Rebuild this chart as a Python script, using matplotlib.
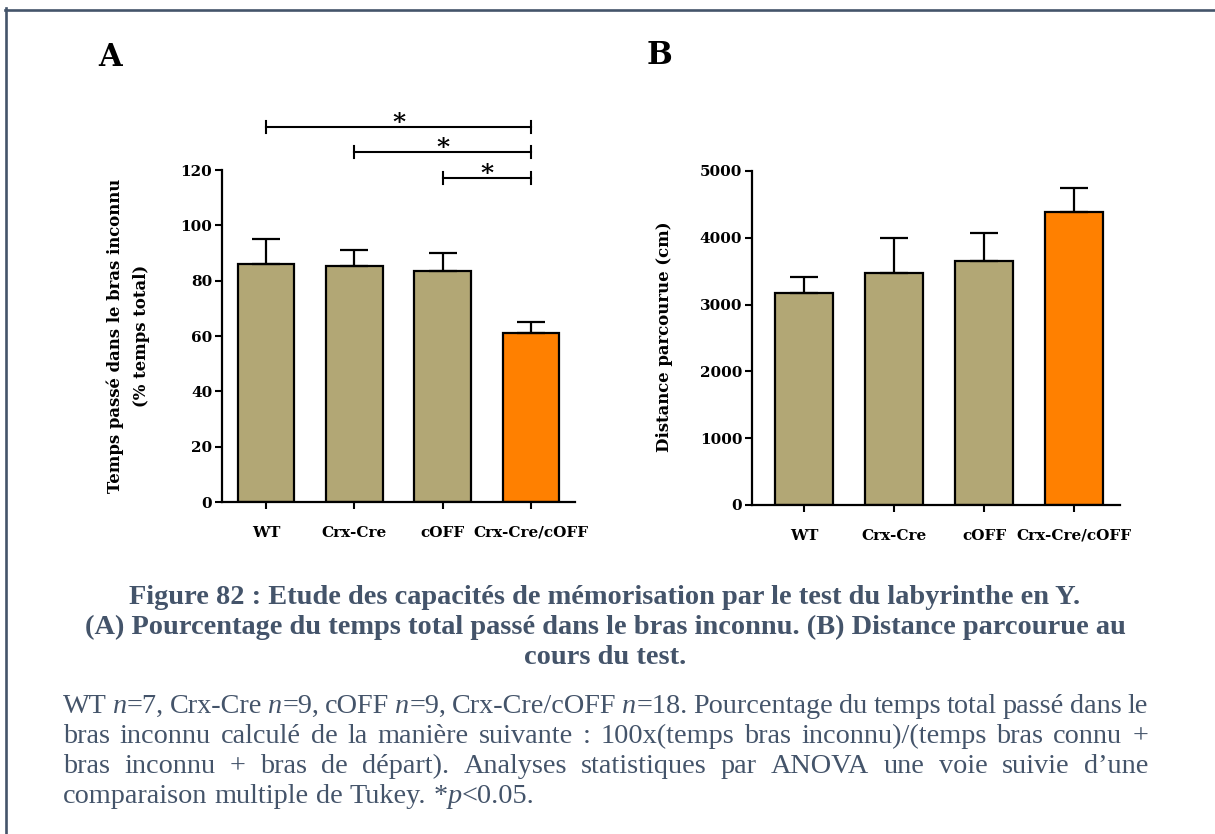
import re
import matplotlib
matplotlib.use("Agg")
import matplotlib.pyplot as plt
from matplotlib.lines import Line2D

# data
groups = ["WT", "Crx-Cre", "cOFF", "Crx-Cre/cOFF"]
temps_mean = [86.0, 85.4, 83.5, 61.0]
temps_sem = [9.1, 5.8, 6.6, 4.2]
dist_mean = [3170, 3480, 3655, 4380]
dist_sem = [250, 515, 410, 370]
# pairwise comparisons (p<0.05) in panel A
sig_pairs = [(0, 3), (1, 3), (2, 3)]

W, H = 1215, 834
fig = plt.figure(figsize=(W / 100, H / 100), dpi=100)

KHAKI = "#b2a775"
ORANGE = "#ff8000"
SLATE = "#44546a"
colors = [KHAKI, KHAKI, KHAKI, ORANGE]
chart_font = "DejaVu Serif"
text_font = "Liberation Serif"


def px_axes(left, top, right, bottom):
    return fig.add_axes([left / W, 1 - bottom / H, (right - left) / W, (bottom - top) / H])


def style_axes(ax):
    for s in ["top", "right"]:
        ax.spines[s].set_visible(False)
    for s in ["left", "bottom"]:
        ax.spines[s].set_linewidth(1.6)
    ax.tick_params(axis="y", direction="out", length=5, width=1.5, pad=2,
                   labelsize=11)
    ax.tick_params(axis="x", direction="out", length=5, width=1.5, pad=12,
                   labelsize=11)
    for lab in ax.get_xticklabels() + ax.get_yticklabels():
        lab.set_fontfamily(chart_font)
        lab.set_fontweight("bold")


def draw_bars(ax, means, sems):
    x = list(range(len(groups)))
    ax.bar(x, means, width=0.64, color=colors, edgecolor="black",
           linewidth=1.6, zorder=2)
    ax.errorbar(x, means, yerr=[[0] * len(sems), sems], fmt="none",
                ecolor="black", elinewidth=1.6, capsize=10, capthick=1.6,
                zorder=3)
    ax.set_xticks(x)
    ax.set_xticklabels(groups)


# panel A
axA = px_axes(222, 170, 575, 502)
draw_bars(axA, temps_mean, temps_sem)
axA.set_xlim(-0.5, 3.5)
axA.set_ylim(0, 120)
axA.set_yticks(range(0, 121, 20))
style_axes(axA)

levels = [135.6, 126.5, 117.1]
for (i, j), lev in zip(sig_pairs, levels):
    axA.plot([i, j], [lev, lev], color="black", lw=1.5, clip_on=False)
    for k in (i, j):
        axA.plot([k, k], [lev - 2.2, lev + 2.2], color="black", lw=1.5,
                 clip_on=False)
    axA.text((i + j) / 2, lev - 1.0, "*", ha="center", va="baseline",
             fontsize=18, fontfamily=chart_font, fontweight="bold",
             clip_on=False)

fig.text(115 / W, 1 - 336 / H, "Temps passé dans le bras inconnu", rotation=90,
         ha="center", va="center", fontsize=11.9, fontfamily=chart_font,
         fontweight="bold")
fig.text(142 / W, 1 - 336 / H, "(% temps total)", rotation=90,
         ha="center", va="center", fontsize=11.9, fontfamily=chart_font,
         fontweight="bold")

# panel B
axB = px_axes(752, 171, 1120, 505)
draw_bars(axB, dist_mean, dist_sem)
axB.set_xlim(-0.58, 3.51)
axB.set_ylim(0, 5000)
axB.set_yticks(range(0, 5001, 1000))
style_axes(axB)
fig.text(665 / W, 1 - 337 / H, "Distance parcourue (cm)", rotation=90,
         ha="center", va="center", fontsize=11.9, fontfamily=chart_font,
         fontweight="bold")

# panel letters
fig.text(110 / W, 1 - 57 / H, "A", ha="center", va="center", fontsize=22,
         fontfamily=chart_font, fontweight="bold")
fig.text(659 / W, 1 - 56 / H, "B", ha="center", va="center", fontsize=22,
         fontfamily=chart_font, fontweight="bold")

# frame
fig.add_artist(Line2D([5 / W, 1], [1 - 9.5 / H, 1 - 9.5 / H], color=SLATE,
                      lw=1.9, transform=fig.transFigure))
fig.add_artist(Line2D([6.2 / W, 6.2 / W], [0, 1 - 8.3 / H], color=SLATE,
                      lw=1.9, transform=fig.transFigure))

# caption
caption = ["Figure 82 : Etude des capacités de mémorisation par le test du labyrinthe en Y.",
           "(A) Pourcentage du temps total passé dans le bras inconnu. (B) Distance parcourue au",
           "cours du test."]
for line, base in zip(caption, [604, 634, 664]):
    fig.text(605 / W, 1 - base / H, line, ha="center", va="baseline",
             fontsize=20.4, fontfamily=text_font, fontweight="bold", color=SLATE)

# justified legend text ({} marks italics)
legend_lines = [
    "WT {n}=7, Crx-Cre {n}=9, cOFF {n}=9, Crx-Cre/cOFF {n}=18. Pourcentage du temps total passé dans le",
    "bras inconnu calculé de la manière suivante : 100x(temps bras inconnu)/(temps bras connu +",
    "bras inconnu + bras de départ). Analyses statistiques par ANOVA une voie suivie d’une",
    "comparaison multiple de Tukey. *{p}<0.05.",
]
body_size = 20.3
renderer = fig.canvas.get_renderer()


def width_of(s, style):
    t = fig.text(0, 0, s, fontsize=body_size, fontfamily=text_font, style=style)
    w = t.get_window_extent(renderer).width
    t.remove()
    return w


space_w = width_of("a a", "normal") - width_of("aa", "normal")
x_left, x_right = 63, 1148
for n, (line, base) in enumerate(zip(legend_lines, [713, 743, 773, 803])):
    words = []
    for w in line.split(" "):
        runs = []
        for part in re.split(r"(\{[^}]*\})", w):
            if not part:
                continue
            if part.startswith("{"):
                runs.append((part[1:-1], "italic"))
            else:
                runs.append((part, "normal"))
        widths = [width_of(s, st) for s, st in runs]
        words.append((runs, widths))
    total = sum(sum(ws) for _, ws in words)
    if n < len(legend_lines) - 1:
        gap = (x_right - x_left - total) / (len(words) - 1)
    else:
        gap = space_w
    x = x_left
    for runs, widths in words:
        for (s, st), w in zip(runs, widths):
            fig.text(x / W, 1 - base / H, s, ha="left", va="baseline",
                     fontsize=body_size, fontfamily=text_font, style=st,
                     color=SLATE)
            x += w
        x += gap

fig.savefig("out.png", dpi=100)
